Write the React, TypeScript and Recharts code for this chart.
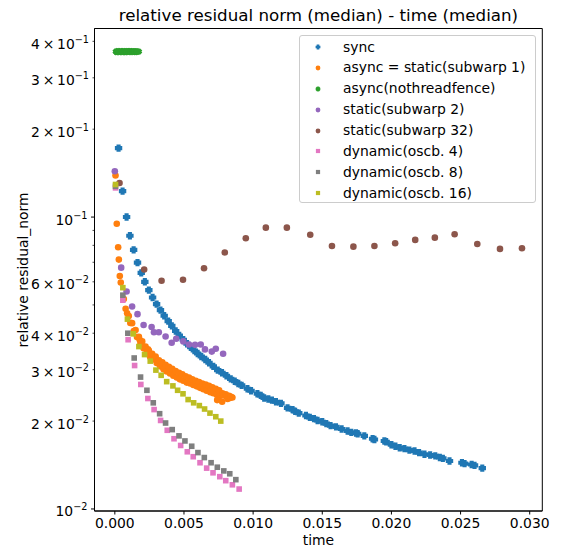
import React from 'react';
import { ScatterChart, Scatter, XAxis, YAxis, Legend, ReferenceArea } from 'recharts';

const FONT = "'DejaVu Sans', sans-serif";

const seriesNames = [
  'sync',
  'async = static(subwarp 1)',
  'async(nothreadfence)',
  'static(subwarp 2)',
  'static(subwarp 32)',
  'dynamic(oscb. 4)',
  'dynamic(oscb. 8)',
  'dynamic(oscb. 16)',
];
const seriesColors = ['#1f77b4', '#ff7f0e', '#2ca02c', '#9467bd', '#8c564b', '#e377c2', '#7f7f7f', '#bcbd22'];
const seriesMarkers = ['plus', 'circle', 'x', 'circle', 'circle', 'square', 'square', 'square'];

const syncData = [
  [0.00027, 0.1723], [0.00056, 0.1227], [0.00085, 0.1], [0.00109, 0.0863], [0.00136, 0.0772],
  [0.00164, 0.0698], [0.00191, 0.0644], [0.00217, 0.06], [0.00246, 0.0562], [0.00273, 0.053],
  [0.00302, 0.0503], [0.0033, 0.048], [0.00357, 0.0459], [0.00386, 0.044], [0.00412, 0.0424],
  [0.0044, 0.0407], [0.00466, 0.0393], [0.00495, 0.038], [0.00522, 0.0368], [0.00549, 0.0358],
  [0.00575, 0.0349], [0.00599, 0.0341], [0.00625, 0.0333], [0.00654, 0.0325], [0.00681, 0.0317],
  [0.00712, 0.0308], [0.00744, 0.0299], [0.00775, 0.0293], [0.00807, 0.0286], [0.00838, 0.0279],
  [0.00867, 0.0274], [0.00893, 0.0269], [0.00917, 0.0265], [0.00959, 0.0258], [0.00985, 0.0254],
  [0.01031, 0.0248], [0.01055, 0.0245], [0.0108, 0.024], [0.0111, 0.0238], [0.01136, 0.0236],
  [0.01165, 0.0233], [0.01201, 0.023], [0.01249, 0.0222], [0.01285, 0.0219], [0.01304, 0.0216],
  [0.0133, 0.0213], [0.01382, 0.0209], [0.0141, 0.0206], [0.0144, 0.0204], [0.01466, 0.0201],
  [0.015, 0.0199], [0.01529, 0.0196], [0.0156, 0.0193], [0.01599, 0.0191], [0.0164, 0.0188],
  [0.01683, 0.0185], [0.0171, 0.0183], [0.01744, 0.0182], [0.01756, 0.0181], [0.01804, 0.0178],
  [0.01864, 0.0174], [0.01877, 0.0173], [0.01949, 0.0171], [0.01962, 0.017], [0.02, 0.0166],
  [0.02029, 0.0164], [0.0206, 0.0162], [0.02094, 0.0161], [0.0213, 0.0159], [0.02167, 0.0158],
  [0.022, 0.0156], [0.02239, 0.0154], [0.0228, 0.0153], [0.02317, 0.0152], [0.0235, 0.015],
  [0.02372, 0.0149], [0.0242, 0.0146], [0.0251, 0.0144], [0.02529, 0.0143], [0.0258, 0.0142],
  [0.02601, 0.0141], [0.02657, 0.0138],
];

const asyncData = [
  [0.00005, 0.1388], [0.00014, 0.0949], [0.00024, 0.0788], [0.00029, 0.0715], [0.00036, 0.0628],
  [0.00043, 0.0597], [0.00065, 0.0524], [0.00078, 0.0485], [0.00089, 0.0468], [0.00101, 0.0458],
  [0.00112, 0.0434], [0.00125, 0.0433], [0.00137, 0.0407], [0.0015, 0.041], [0.0016, 0.0388],
  [0.00174, 0.0389], [0.0018, 0.038], [0.00185, 0.037], [0.00198, 0.0375], [0.00208, 0.0355],
  [0.00222, 0.036], [0.00233, 0.0343], [0.0024, 0.0352], [0.00246, 0.0349], [0.00255, 0.0332],
  [0.0027, 0.034], [0.00281, 0.0325], [0.00295, 0.0333], [0.00303, 0.0316], [0.00319, 0.0323],
  [0.00328, 0.0308], [0.00343, 0.0318], [0.00352, 0.0301], [0.00367, 0.0312], [0.00375, 0.0296],
  [0.00391, 0.0307], [0.00399, 0.0291], [0.00415, 0.0302], [0.00423, 0.0286], [0.0044, 0.0297],
  [0.00448, 0.0282], [0.00464, 0.0293], [0.0047, 0.0278], [0.00488, 0.0289], [0.00495, 0.0275],
  [0.00512, 0.0285], [0.0052, 0.0271], [0.00536, 0.0282], [0.00545, 0.0269], [0.0056, 0.0278],
  [0.00568, 0.0266], [0.00585, 0.0275], [0.00592, 0.0263], [0.00609, 0.0272], [0.00616, 0.026],
  [0.00633, 0.0269], [0.0064, 0.0257], [0.00657, 0.0267], [0.00664, 0.0254], [0.00681, 0.0264],
  [0.0069, 0.0251], [0.00705, 0.0261], [0.00712, 0.0249], [0.0073, 0.0258], [0.00737, 0.0246],
  [0.00754, 0.0255], [0.0076, 0.0244], [0.0074, 0.0236], [0.00778, 0.0249], [0.00785, 0.0245],
  [0.00776, 0.0233], [0.00802, 0.0247], [0.00808, 0.0243], [0.00815, 0.0238], [0.00826, 0.0244],
  [0.00833, 0.024], [0.0084, 0.0242], [0.0085, 0.0241],
];

const noFenceData = [
  [0.00007, 0.369], [0.00012, 0.3675], [0.00017, 0.37], [0.00022, 0.3682], [0.00027, 0.3695],
  [0.00032, 0.3672], [0.00037, 0.3688], [0.00042, 0.3702], [0.00047, 0.368], [0.00052, 0.3693],
  [0.00057, 0.3677], [0.00062, 0.3698], [0.00067, 0.3685], [0.00072, 0.369], [0.00077, 0.3671],
  [0.00082, 0.3696], [0.00087, 0.3684], [0.00092, 0.37], [0.00097, 0.3679], [0.00102, 0.3692],
  [0.00107, 0.3686], [0.00112, 0.3698], [0.00117, 0.3674], [0.00122, 0.3689], [0.00127, 0.3694],
  [0.00132, 0.3681], [0.00137, 0.3697], [0.00142, 0.3687], [0.00147, 0.3691], [0.00152, 0.3678],
  [0.00158, 0.3695], [0.00164, 0.3686], [0.00174, 0.369],
];

const subwarp2Data = [
  [0.0, 0.1436], [0.00046, 0.0671], [0.00085, 0.0556], [0.00125, 0.0494], [0.00164, 0.0465],
  [0.00208, 0.0427], [0.00266, 0.042], [0.00283, 0.0403], [0.00318, 0.0403], [0.00367, 0.039],
  [0.00411, 0.0371], [0.00444, 0.0383], [0.00495, 0.0375], [0.00536, 0.0366], [0.0058, 0.0365],
  [0.00621, 0.0366], [0.00652, 0.0352], [0.00701, 0.0346], [0.0073, 0.0354], [0.00783, 0.034],
];

const subwarp32Data = [
  [0.00034, 0.1309], [0.00212, 0.0661], [0.00338, 0.0605], [0.00493, 0.061], [0.00645, 0.0668],
  [0.00795, 0.0756], [0.00947, 0.0846], [0.01092, 0.092], [0.01244, 0.092], [0.01413, 0.087],
  [0.0157, 0.0796], [0.01725, 0.0792], [0.01877, 0.0796], [0.02027, 0.0813], [0.02172, 0.0835],
  [0.02314, 0.085], [0.02457, 0.0873], [0.02621, 0.0809], [0.02785, 0.0778], [0.02944, 0.0782],
];

const oscb4Data = [
  [0.00005, 0.1259], [0.00058, 0.0519], [0.00096, 0.038], [0.00143, 0.031], [0.00188, 0.0267],
  [0.00239, 0.0239], [0.00284, 0.0219], [0.00331, 0.0201], [0.00379, 0.0186], [0.00428, 0.0174],
  [0.00476, 0.0165], [0.00524, 0.0157], [0.00567, 0.0151], [0.00616, 0.0144], [0.00664, 0.0138],
  [0.0071, 0.0133], [0.00759, 0.0129], [0.00802, 0.0125], [0.0085, 0.0121], [0.00899, 0.0117],
];

const oscb8Data = [
  [0.00005, 0.1275], [0.00058, 0.054], [0.00094, 0.04], [0.0014, 0.0329], [0.00186, 0.0283],
  [0.00232, 0.0255], [0.00278, 0.0231], [0.00324, 0.0212], [0.00367, 0.0197], [0.00415, 0.0187],
  [0.00464, 0.0178], [0.00507, 0.0171], [0.00556, 0.0164], [0.00601, 0.0156], [0.00647, 0.015],
  [0.00696, 0.0144], [0.00741, 0.0139], [0.00788, 0.0135], [0.00831, 0.0132], [0.00875, 0.0126],
];

const oscb16Data = [
  [0.00005, 0.1293], [0.00058, 0.0573], [0.00091, 0.0447], [0.00133, 0.0398], [0.00174, 0.036],
  [0.00215, 0.0338], [0.00256, 0.0321], [0.00297, 0.0299], [0.00335, 0.0287], [0.00375, 0.0273],
  [0.0042, 0.0264], [0.00454, 0.0255], [0.00493, 0.0248], [0.0053, 0.0237], [0.0057, 0.0231],
  [0.00611, 0.0226], [0.00649, 0.022], [0.00688, 0.0213], [0.0073, 0.0207], [0.00766, 0.02],
];

const allSeries = [syncData, asyncData, noFenceData, subwarp2Data, subwarp32Data, oscb4Data, oscb8Data, oscb16Data];

const xTicks = [0, 0.005, 0.01, 0.015, 0.02, 0.025, 0.03];
const yTicks = [0.01, 0.02, 0.03, 0.04, 0.05, 0.06, 0.07, 0.08, 0.09, 0.1, 0.2, 0.3, 0.4];
const yTickMantissa = ['', '2', '3', '4', null, '6', null, null, null, '', '2', '3', '4'];
const yTickExponent = ['2', '2', '2', '2', null, '2', null, null, null, '1', '1', '1', '1'];

const X_DOMAIN = [-0.00147, 0.03091];
const Y_DOMAIN = [0.00984, 0.4426];

const markerSizes: Record<string, number> = { plus: 7.4, circle: 6.6, x: 6.2, square: 5.6 };

function Marker({ kind, cx, cy, color, s }: any) {
  if (cx == null || cy == null) return null;
  if (kind === 'circle') return <circle cx={cx} cy={cy} r={s / 2} fill={color} />;
  if (kind === 'square') return <rect x={cx - s / 2} y={cy - s / 2} width={s} height={s} fill={color} />;
  const a = s / 2;
  const b = s / 3.6;
  const pts = [
    [-b, -a], [b, -a], [b, -b], [a, -b], [a, b], [b, b], [b, a], [-b, a], [-b, b], [-a, b], [-a, -b], [-b, -b],
  ];
  const rot = kind === 'x' ? Math.PI / 4 : 0;
  const c = Math.cos(rot);
  const sn = Math.sin(rot);
  const d = pts.map(([px, py]) => `${cx + px * c - py * sn},${cy + px * sn + py * c}`).join(' ');
  return <polygon points={d} fill={color} />;
}

const YTick = (props: any) => {
  const { x, y, payload } = props;
  const idx = yTicks.indexOf(payload.value);
  const major = payload.value === 0.01 || payload.value === 0.1;
  const len = major ? 3.5 : 2;
  const mant = yTickMantissa[idx];
  const exp = yTickExponent[idx];
  return (
    <g>
      <line x1={x - len} x2={x} y1={y} y2={y} stroke="#000" strokeWidth={major ? 1 : 0.7} />
      {exp != null && (
        <text x={x - len - 3.5} y={y + 7.5} textAnchor="end" fontFamily={FONT} fontSize={13.9} fill="#000">
          {mant ? `${mant}\u2009×\u200910` : '10'}
          <tspan dy={-6} fontSize={9.7}>{`\u2212${exp}`}</tspan>
        </text>
      )}
    </g>
  );
};

const LegendBox = () => (
  <div
    style={{
      boxSizing: 'border-box',
      width: 237,
      height: 168,
      border: '1px solid #cccccc',
      borderRadius: 3,
      background: 'rgba(255,255,255,0.8)',
      fontFamily: FONT,
      fontSize: 13.9,
      color: '#000',
      paddingTop: 0.5,
    }}
  >
    {seriesNames.map((n, i) => (
      <div key={n} style={{ position: 'relative', height: 20.9, lineHeight: '20.9px' }}>
        <svg style={{ position: 'absolute', left: 13, top: 5.45 }} width={10} height={10}>
          <Marker kind={seriesMarkers[i]} cx={5} cy={5} color={seriesColors[i]} s={seriesMarkers[i] === 'square' ? 4.2 : 4.8} />
        </svg>
        <span style={{ position: 'absolute', left: 43, whiteSpace: 'nowrap' }}>{n}</span>
      </div>
    ))}
  </div>
);

export default function App() {
  return (
    <div style={{ position: 'absolute', left: 0, top: 0, width: 562, height: 550 }}>
      <ScatterChart width={562} height={550} margin={{ top: 28.5, right: 19.7, bottom: 0, left: 0 }}>
        <XAxis
          type="number"
          dataKey="x"
          domain={X_DOMAIN}
          ticks={xTicks}
          interval={0}
          allowDataOverflow
          tickFormatter={(v: number) => v.toFixed(3)}
          tick={{ fill: '#000', fontSize: 13.9, fontFamily: FONT }}
          tickSize={3.5}
          tickMargin={3.5}
          height={39}
          stroke="#000"
          label={{ value: 'time', position: 'insideTop', offset: 24, fill: '#000', fontSize: 13.9, fontFamily: FONT }}
        />
        <YAxis
          type="number"
          dataKey="y"
          scale="log"
          domain={Y_DOMAIN}
          ticks={yTicks}
          interval={0}
          allowDataOverflow
          tick={<YTick />}
          tickLine={false}
          tickSize={0}
          tickMargin={0}
          width={94.5}
          stroke="#000"
        />
        <ReferenceArea
          x1={X_DOMAIN[0]}
          x2={X_DOMAIN[1]}
          y1={Y_DOMAIN[0]}
          y2={Y_DOMAIN[1]}
          fill="none"
          fillOpacity={0}
          stroke="#000"
          strokeWidth={1}
          ifOverflow="visible"
        />
        {allSeries.map((data, i) => (
          <Scatter
            key={seriesNames[i]}
            name={seriesNames[i]}
            data={data.map(([x, y]) => ({ x, y }))}
            fill={seriesColors[i]}
            isAnimationActive={false}
            shape={(p: any) => (
              <Marker kind={seriesMarkers[i]} cx={p.cx} cy={p.cy} color={seriesColors[i]} s={markerSizes[seriesMarkers[i]]} />
            )}
          />
        ))}
        <Legend
          layout="vertical"
          align="center"
          verticalAlign="middle"
          wrapperStyle={{ position: 'absolute', left: 299, top: 35, width: 237, height: 168, margin: 0 }}
          content={() => <LegendBox />}
        />
      </ScatterChart>
      <svg
        width={562}
        height={550}
        style={{ position: 'absolute', left: 0, top: 0, pointerEvents: 'none' }}
      >
        <text x={318.4} y={21} textAnchor="middle" fontFamily={FONT} fontSize={16.7} fill="#000">
          relative residual norm (median) - time (median)
        </text>
        <text
          x={28}
          y={270}
          textAnchor="middle"
          transform="rotate(-90 28 270)"
          fontFamily={FONT}
          fontSize={13.9}
          fill="#000"
        >
          relative residual_norm
        </text>
      </svg>
    </div>
  );
}
